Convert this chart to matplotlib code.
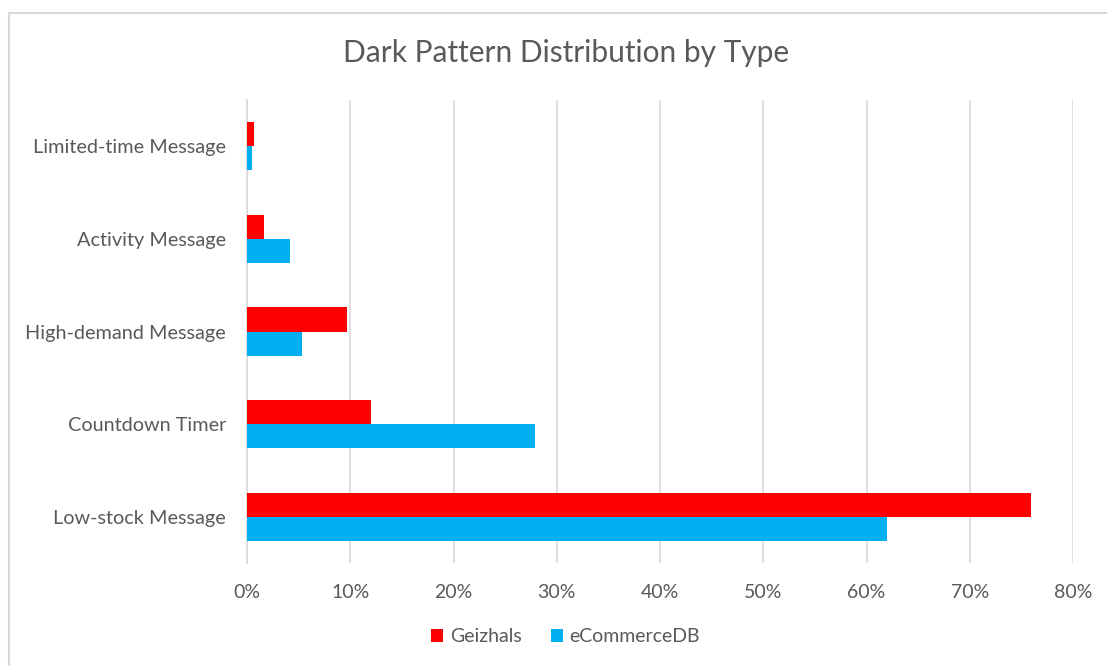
import matplotlib
matplotlib.use('Agg')
import matplotlib.pyplot as plt
import numpy as np
from matplotlib.patches import Rectangle

# values in percent, read top to bottom as categories appear on the chart
categories = ["Limited-time Message", "Activity Message", "High-demand Message",
              "Countdown Timer", "Low-stock Message"]
geizhals = [0.65, 1.6, 9.7, 12.0, 75.9]
ecommercedb = [0.45, 4.2, 5.3, 27.9, 62.0]
x_ticks = [0, 10, 20, 30, 40, 50, 60, 70, 80]

RED = '#FF0000'
BLUE = '#00B0F0'
TEXT = '#595959'
GRID = '#D9D9D9'

plt.rcParams['font.family'] = ['Lato', 'DejaVu Sans']

fig = plt.figure(figsize=(11.07, 6.66), dpi=100)
ax = fig.add_axes([247 / 1107, 1 - 563 / 666, 826 / 1107, 463 / 666])

# chart frame (only top and left edges fall inside the canvas)
fig.patches.append(Rectangle((9 / 1107, -0.1), 2.0, (1 - 13 / 666) + 0.1,
                             transform=fig.transFigure, fill=False,
                             edgecolor=GRID, linewidth=1.5, zorder=0))

# first category at the top
pos = np.arange(len(categories))[::-1]
h = 0.26
ax.barh(pos + h / 2, geizhals, height=h, color=RED, label='Geizhals', zorder=3)
ax.barh(pos - h / 2, ecommercedb, height=h, color=BLUE, label='eCommerceDB', zorder=3)

ax.set_xlim(0, 80)
ax.set_ylim(-0.5, len(categories) - 0.5)
ax.set_xticks(x_ticks)
ax.set_xticklabels([f"{t}%" for t in x_ticks])
ax.set_yticks(pos)
ax.set_yticklabels(categories)

ax.grid(axis='x', color=GRID, linewidth=1.2, zorder=0)
ax.set_axisbelow(True)
for s in ['top', 'right', 'bottom']:
    ax.spines[s].set_visible(False)
ax.spines['left'].set_color(GRID)
ax.spines['left'].set_linewidth(1.2)

ax.tick_params(axis='x', length=0, pad=15, labelsize=14, labelcolor=TEXT)
ax.tick_params(axis='y', length=0, pad=15, labelsize=14.3, labelcolor=TEXT)

fig.text(0.511, 1 - 53 / 666, "Dark Pattern Distribution by Type",
         ha='center', va='center', fontsize=21.5, color=TEXT)

leg = fig.legend(loc='center', bbox_to_anchor=(0.511, 1 - 637 / 666), ncol=2,
                 frameon=False, fontsize=14, handlelength=0.6, handleheight=0.6,
                 handletextpad=0.35, columnspacing=1.5)
for t in leg.get_texts():
    t.set_color(TEXT)

fig.savefig('out.png', dpi=100, facecolor='white')
